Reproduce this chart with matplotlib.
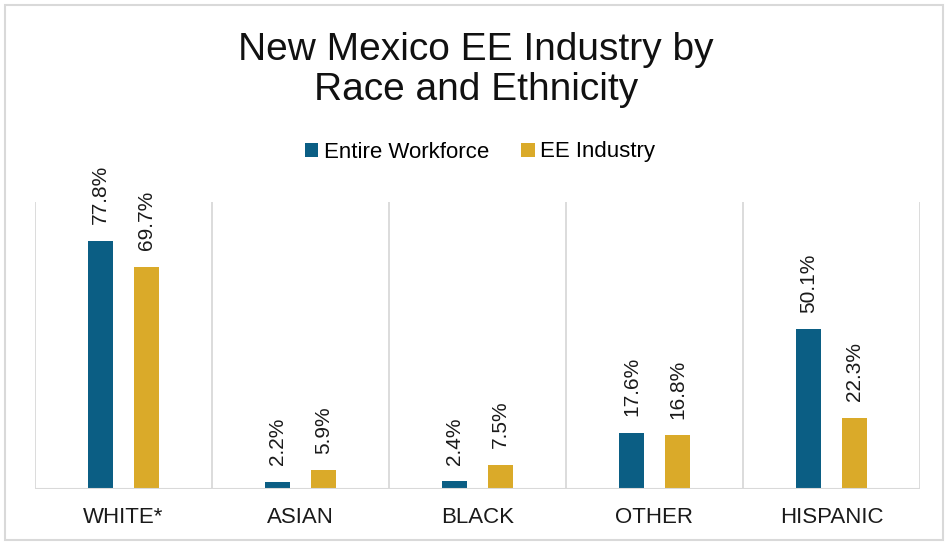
import matplotlib
matplotlib.use("Agg")
import matplotlib.pyplot as plt
from matplotlib.patches import Rectangle
import numpy as np

categories = ["WHITE*", "ASIAN", "BLACK", "OTHER", "HISPANIC"]
entire_workforce = [77.8, 2.2, 2.4, 17.6, 50.1]
ee_industry = [69.7, 5.9, 7.5, 16.8, 22.3]
series_names = ["Entire Workforce", "EE Industry"]
colors = ["#0B5E84", "#DAAA29"]

plt.rcParams['font.family'] = ['Liberation Sans', 'DejaVu Sans']

fig = plt.figure(figsize=(9.48, 5.45), dpi=100)
fig.patches.append(Rectangle((5/948, 5/545), 938/948, 535/545, transform=fig.transFigure,
                             fill=False, edgecolor="#D9D9D9", linewidth=1.5))

ax = fig.add_axes([35/948, 56/545, 885/948, 287/545])
x = np.arange(len(categories))
w = 0.136
off = 0.13
b1 = ax.bar(x - off, entire_workforce, w, color=colors[0], label=series_names[0], zorder=3)
b2 = ax.bar(x + off, ee_industry, w, color=colors[1], label=series_names[1], zorder=3)

for bars, vals in ((b1, entire_workforce), (b2, ee_industry)):
    for r, v in zip(bars, vals):
        ax.annotate(f"{v:.1f}%", (r.get_x() + r.get_width() / 2, r.get_height()),
                    xytext=(0, 12), textcoords="offset points", rotation=90,
                    ha="center", va="bottom", fontsize=15, color="#1a1a1a")

ax.set_xlim(-0.5, len(categories) - 0.5)
ax.set_ylim(0, 90)
for b in np.arange(len(categories) + 1) - 0.5:
    ax.axvline(b, color="#D9D9D9", linewidth=1.3, zorder=1)
for s in ax.spines.values():
    s.set_visible(False)
ax.axhline(0, color="#D9D9D9", linewidth=1.5, zorder=4)
ax.set_yticks([])
ax.set_xticks(x)
ax.set_xticklabels(categories, fontsize=16, color="#1a1a1a")
ax.tick_params(axis="x", length=0, pad=13)
ax.patch.set_alpha(0)

fig.text(0.502, 1 - 70/545, "New Mexico EE Industry by\nRace and Ethnicity", ha="center",
         va="center", fontsize=28, color="#111111", linespacing=1.15)

fig.legend(handles=[b1, b2], labels=series_names, loc="center", bbox_to_anchor=(480/948, 1 - 152/545),
           ncol=2, frameon=False, fontsize=16, handlelength=0.6, handleheight=0.6,
           handletextpad=0.25, columnspacing=1.45)

fig.savefig("out.png", dpi=100)
